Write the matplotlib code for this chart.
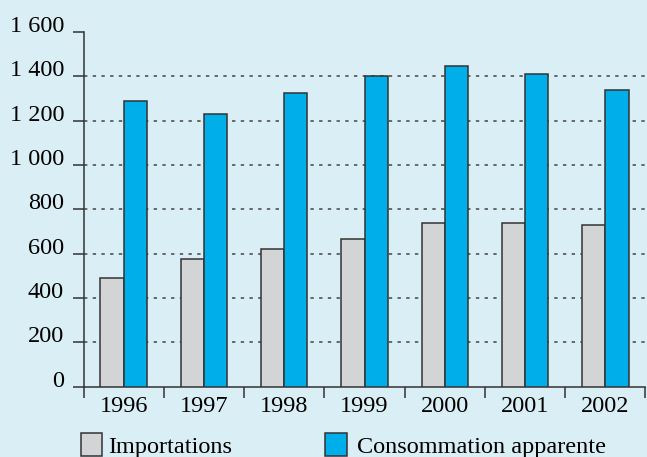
import matplotlib
matplotlib.use("Agg")
import matplotlib.pyplot as plt
from matplotlib.patches import Rectangle
import numpy as np

years = ["1996", "1997", "1998", "1999", "2000", "2001", "2002"]
importations = [490, 575, 622, 668, 740, 740, 728]
consommation = [1290, 1232, 1327, 1400, 1448, 1412, 1340]
series_names = ["Importations", "Consommation apparente"]
y_ticks = [0, 200, 400, 600, 800, 1000, 1200, 1400, 1600]
y_tick_labels = ["0", "200", "400", "600", "800", "1 000", "1 200", "1 400", "1 600"]

BG = "#daeef5"
GREY = "#d3d4d6"
BLUE = "#00aeea"
EDGE = "#333333"
W, H = 647, 457
FS = 17.5

plt.rcParams["font.family"] = ["Liberation Serif", "DejaVu Serif"]

fig = plt.figure(figsize=(W / 100, H / 100), dpi=100, facecolor=BG)
ax = fig.add_axes([83.5 / W, 1 - 386.7 / H, 562 / W, (386.7 - 32) / H])
ax.set_facecolor(BG)

x = np.arange(len(years))
bw = 0.29
ax.bar(x - bw / 2, importations, bw, color=GREY, edgecolor=EDGE, linewidth=1.1, zorder=3)
ax.bar(x + bw / 2, consommation, bw, color=BLUE, edgecolor=EDGE, linewidth=1.1, zorder=3)

ax.set_xlim(-0.5, len(years) - 0.5)
ax.set_ylim(0, 1600)

# gridlines
for v in y_ticks[1:-1]:
    ax.axhline(v, color="#444444", linewidth=1.1, linestyle=(0, (2.2, 3.5)), zorder=1)

for s in ["top", "right"]:
    ax.spines[s].set_visible(False)
ax.spines["left"].set_color("#333333")
ax.spines["bottom"].set_color("#333333")
ax.spines["left"].set_linewidth(1.1)
ax.spines["bottom"].set_linewidth(1.1)

ax.set_yticks(y_ticks)
ax.set_yticklabels(y_tick_labels, fontsize=FS)
ax.tick_params(axis="y", length=8, width=1.1, color="#333333", pad=6)
for lbl in ax.get_yticklabels():
    lbl.set_verticalalignment("baseline")

ax.set_xticks(x)
ax.set_xticklabels(years, fontsize=FS)
ax.set_xticks(np.arange(-0.5, len(years)), minor=True)
ax.tick_params(axis="x", which="major", length=0, pad=7)
ax.tick_params(axis="x", which="minor", length=8, width=1.1, color="#333333")

# legend
def fx(px):
    return px / W

def fy(py):
    return 1 - py / H

for (x0, x_text, color, name) in [(80.7, 108, GREY, series_names[0]),
                                  (325, 357, BLUE, series_names[1])]:
    fig.add_artist(Rectangle((fx(x0), fy(456)), 21.5 / W, 23 / H,
                             transform=fig.transFigure, facecolor=color,
                             edgecolor=EDGE, linewidth=1.1))
    fig.text(fx(x_text), fy(453.5), name, fontsize=FS, va="baseline", ha="left")

fig.savefig("out.png", dpi=100, facecolor=BG)
